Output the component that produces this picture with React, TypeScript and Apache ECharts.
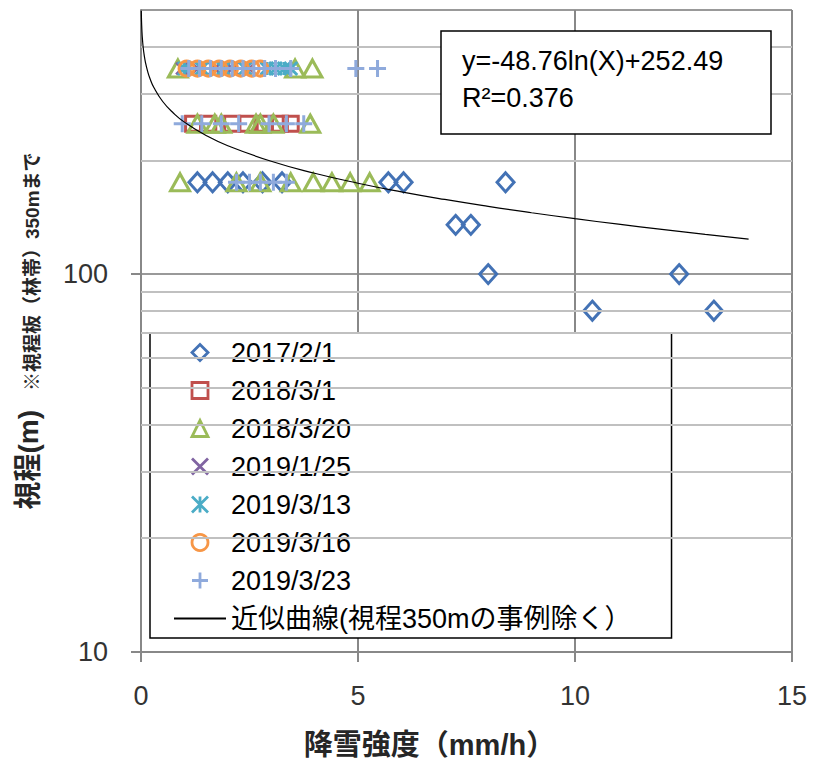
import React, { useEffect, useRef } from 'react';
import * as echarts from 'echarts';

// ---- data ----
const S2017_X = [1.3, 1.65, 2.0, 2.35, 2.8, 3.25, 5.7, 6.05, 8.4, 7.25, 7.6, 8.0, 12.4, 10.4, 13.2];
const S2017_Y = [175, 175, 175, 175, 175, 175, 175, 175, 175, 135, 135, 100, 100, 80, 80];

const S2018A_X = [1.2, 1.55, 2.1, 2.45, 2.85, 3.2, 3.45];
const S2018A_Y = [250, 250, 250, 250, 250, 250, 250];

const S2018B_X = [0.85, 3.55, 3.95, 1.3, 1.7, 1.85, 2.65, 2.75, 3.05, 3.9, 0.9, 2.2, 2.75, 3.45, 3.97, 4.4, 4.82, 5.27];
const S2018B_Y = [350, 350, 350, 250, 250, 250, 250, 250, 250, 250, 175, 175, 175, 175, 175, 175, 175, 175];

const S2019A_X = [0.95, 1.3, 1.7, 2.1, 2.5, 2.9];
const S2019A_Y = [350, 350, 350, 350, 350, 350];

const S2019B_X = [1.0, 1.4, 1.9, 2.4, 2.9, 3.1, 3.3, 3.45];
const S2019B_Y = [350, 350, 350, 350, 350, 350, 350, 350];

const S2019C_X = [1.05, 1.3, 1.55, 1.8, 2.05, 2.3, 2.55, 2.75];
const S2019C_Y = [350, 350, 350, 350, 350, 350, 350, 350];

const S2019D_X = [1.1, 1.35, 1.6, 1.85, 2.1, 2.35, 2.6, 2.85, 3.1, 3.45, 4.95, 5.45, 0.95, 1.4, 1.85, 2.25, 2.95, 3.35, 3.75, 2.2, 2.5, 2.75, 3.05, 3.35];
const S2019D_Y = [350, 350, 350, 350, 350, 350, 350, 350, 350, 350, 350, 350, 250, 250, 250, 250, 250, 250, 250, 175, 175, 175, 175, 175];

const SERIES_NAMES = ['2017/2/1', '2018/3/1', '2018/3/20', '2019/1/25', '2019/3/13', '2019/3/16', '2019/3/23'];
const TREND_NAME = '近似曲線(視程350mの事例除く）';

// fitted curve printed on the chart: y = -48.76 ln(x) + 252.49
const TREND_A = -48.76;
const TREND_B = 252.49;
const TREND_X = [0.0065, 0.008, 0.01, 0.015, 0.02, 0.03, 0.05, 0.075, 0.1, 0.15, 0.2, 0.3, 0.5, 0.75, 1, 1.5, 2, 3, 4, 5, 6, 7, 8, 9, 10, 11, 12, 13, 14];

const X_TICKS = [0, 5, 10, 15];
const Y_MINOR_GRID = [20, 30, 40, 50, 60, 70, 80, 90, 200, 300, 400];

const EQ_TEXT = 'y=-48.76ln(X)+252.49';
const R2_TEXT = 'R²=0.376';

const FONT = "'Liberation Sans', 'Noto Sans CJK JP', sans-serif";

const pts = (xs: number[], ys: number[]) => xs.map((x, i) => [x, ys[i]]);

const COLORS = ['#4372B5', '#C0504D', '#9BBB59', '#8064A2', '#4BACC6', '#F79646', '#8FAADC'];
const SYMBOLS: any[] = [
  'path://M5,0L10,5L5,10L0,5Z',
  'path://M0,0L10,0L10,10L0,10Z',
  'path://M5,0L10,10L0,10Z',
  'path://M0,0L10,10M10,0L0,10',
  'path://M0,0L10,10M10,0L0,10M5,0L5,10',
  'circle',
  'path://M0,5L10,5M5,0L5,10',
];
const SIZES: any[] = [[17, 19], 15, [19, 17], 12, 13, 15, 17];
const DATA = [
  pts(S2017_X, S2017_Y),
  pts(S2018A_X, S2018A_Y),
  pts(S2018B_X, S2018B_Y),
  pts(S2019A_X, S2019A_Y),
  pts(S2019B_X, S2019B_Y),
  pts(S2019C_X, S2019C_Y),
  pts(S2019D_X, S2019D_Y),
];

export default function App() {
  const ref = useRef<HTMLDivElement>(null);
  useEffect(() => {
    const chart = echarts.init(ref.current!, null, { renderer: 'svg' });
    const scatter = SERIES_NAMES.map((name, i) => ({
      name,
      type: 'scatter',
      data: DATA[i],
      symbol: SYMBOLS[i],
      symbolSize: SIZES[i],
      itemStyle: { color: 'rgba(0,0,0,0)', borderColor: COLORS[i], borderWidth: 3, opacity: 1 },
      z: 3,
      silent: true,
    }));
    const option: any = {
      animation: false,
      backgroundColor: '#fff',
      textStyle: { fontFamily: FONT },
      grid: { left: 141, top: 10, width: 651, height: 642, containLabel: false },
      xAxis: {
        type: 'value',
        min: X_TICKS[0],
        max: X_TICKS[X_TICKS.length - 1],
        interval: 5,
        name: '降雪強度（mm/h）',
        nameLocation: 'middle',
        nameGap: 78,
        nameTextStyle: {
          fontSize: 29,
          fontWeight: 'bold',
          color: '#262626',
          fontFamily: FONT,
          padding: [0, 74, 0, 0],
        },
        axisLine: { show: true, lineStyle: { color: '#888', width: 2 } },
        axisTick: { show: true, length: 10, lineStyle: { color: '#888', width: 2 } },
        axisLabel: { fontSize: 27, color: '#333', margin: 30, fontFamily: FONT },
        splitLine: { show: true, lineStyle: { color: '#888', width: 2 } },
      },
      yAxis: {
        type: 'log',
        logBase: 10,
        min: 10,
        max: 500,
        name: '{a|視程(m)}{b|　※視程板（林帯）350mまで}',
        nameLocation: 'middle',
        nameRotate: 90,
        nameGap: 99,
        nameTextStyle: {
          color: '#262626',
          rich: {
            a: { fontSize: 28, fontWeight: 'bold', fontFamily: FONT, color: '#262626', verticalAlign: 'bottom' },
            b: { fontSize: 19, fontWeight: 'bold', fontFamily: FONT, color: '#262626', verticalAlign: 'bottom' },
          },
        },
        axisLine: { show: true, lineStyle: { color: '#888', width: 2 } },
        axisTick: { show: true, length: 10, lineStyle: { color: '#888', width: 2 } },
        axisLabel: { fontSize: 27, color: '#333', margin: 33, showMaxLabel: false, fontFamily: FONT },
        splitLine: { show: true, lineStyle: { color: '#999', width: 2 } },
        minorTick: { show: false },
      },
      legend: {
        orient: 'vertical',
        left: 150,
        top: 333,
        padding: [6, 40, 6, 23],
        itemWidth: 52,
        itemHeight: 16,
        itemGap: 11,
        backgroundColor: '#fff',
        borderColor: '#000',
        borderWidth: 1.5,
        borderRadius: 0,
        symbolKeepAspect: true,
        data: [
          ...SERIES_NAMES,
          { name: TREND_NAME, itemStyle: { color: 'rgba(0,0,0,0)', borderWidth: 0 } },
        ],
        textStyle: { fontSize: 27, lineHeight: 27, color: '#000', fontFamily: FONT },
        itemStyle: { borderWidth: 2.8 },
        selectedMode: false,
      },
      graphic: [
        {
          type: 'rect',
          shape: { x: 441, y: 31, width: 330, height: 103 },
          style: { fill: '#fff', stroke: '#000', lineWidth: 1.5 },
          z: 10,
        },
        {
          type: 'text',
          x: 462,
          y: 61,
          style: { text: EQ_TEXT, fontSize: 27, fontFamily: FONT, fill: '#000', verticalAlign: 'middle' },
          z: 11,
        },
        {
          type: 'text',
          x: 462,
          y: 98,
          style: { text: R2_TEXT, fontSize: 27, fontFamily: FONT, fill: '#000', verticalAlign: 'middle' },
          z: 11,
        },
      ],
      series: [
        {
          name: '_minorgrid',
          type: 'scatter',
          data: [],
          z: 1,
          silent: true,
          markLine: {
            silent: true,
            symbol: ['none', 'none'],
            label: { show: false },
            lineStyle: { color: '#C0C0C0', width: 2, type: 'solid' },
            data: Y_MINOR_GRID.map((v) => ({ yAxis: v })),
          },
        },
        ...scatter,
        {
          name: TREND_NAME,
          type: 'line',
          data: TREND_X.map((x) => [x, TREND_A * Math.log(x) + TREND_B]),
          symbol: 'none',
          showSymbol: false,
          smooth: true,
          lineStyle: { color: '#000', width: 1.2 },
          itemStyle: { color: 'rgba(0,0,0,0)', borderWidth: 0 },
          z: 5,
          silent: true,
          clip: true,
        },
      ],
    };
    chart.setOption(option);
    return () => chart.dispose();
  }, []);
  return <div ref={ref} style={{ position: 'absolute', left: 0, top: 0, width: 813, height: 765 }} />;
}
